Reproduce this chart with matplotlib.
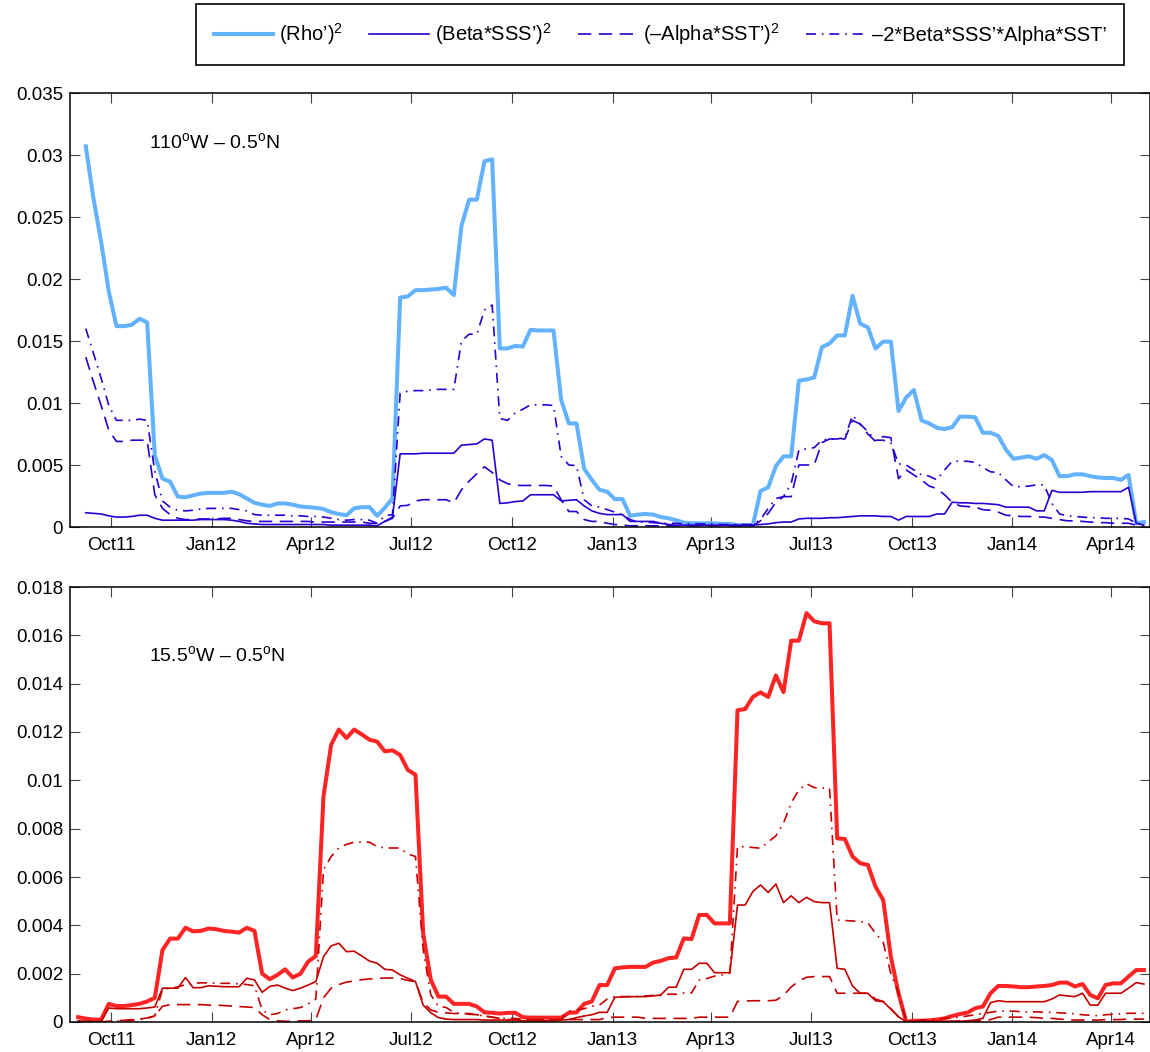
import numpy as np
import pandas as pd
import matplotlib
matplotlib.use("Agg")
import matplotlib.pyplot as plt
import matplotlib.dates as mdates
from matplotlib.ticker import FuncFormatter, MultipleLocator

plt.rcParams["font.family"] = ["Liberation Sans", "DejaVu Sans"]
plt.rcParams["mathtext.fontset"] = "custom"
plt.rcParams["mathtext.rm"] = "Liberation Sans"
plt.rcParams["mathtext.it"] = "Liberation Sans:italic"
plt.rcParams["font.size"] = 13.5

# Weekly density-variance terms, values in units of 1e-3
dates_110 = pd.date_range("2011-09-08", periods=139, freq="7D")
dates_155 = pd.date_range("2011-09-01", periods=140, freq="7D")

# 110W - 0.5N
rho_110 = [
    30.7, 26.5, 23.0, 19.0, 16.2, 16.2, 16.3, 16.8, 16.5, 5.8,
    3.9, 3.65, 2.45, 2.4, 2.55, 2.7, 2.75, 2.75, 2.75, 2.85,
    2.65, 2.3, 1.95, 1.8, 1.7, 1.9, 1.9, 1.8, 1.65, 1.6,
    1.55, 1.45, 1.2, 1.05, 0.95, 1.5, 1.6, 1.6, 0.9, 1.55,
    2.3, 18.5, 18.6, 19.1, 19.1, 19.15, 19.2, 19.3, 18.7, 24.3,
    26.4, 26.4, 29.5, 29.65, 14.4, 14.4, 14.6, 14.55, 15.9, 15.85,
    15.85, 15.85, 10.25, 8.35, 8.35, 4.7, 3.8, 3.0, 2.85, 2.25,
    2.25, 0.9, 1.0, 1.05, 1.0, 0.8, 0.7, 0.55, 0.35, 0.3,
    0.3, 0.3, 0.3, 0.25, 0.25, 0.15, 0.15, 0.15, 2.9, 3.2,
    4.9, 5.7, 5.7, 11.8, 11.9, 12.05, 14.5, 14.8, 15.45, 15.45,
    18.65, 16.4, 16.1, 14.4, 14.95, 14.95, 9.35, 10.45, 11.05, 8.6,
    8.35, 8.0, 7.9, 8.05, 8.9, 8.9, 8.85, 7.6, 7.6, 7.35,
    6.25, 5.5, 5.6, 5.7, 5.5, 5.8, 5.4, 4.1, 4.1, 4.25,
    4.25, 4.1, 4.0, 3.95, 3.95, 3.8, 4.2, 0.3, 0.4,
]
beta_110 = [
    1.15, 1.1, 1.05, 0.9, 0.8, 0.8, 0.85, 0.95, 0.95, 0.7,
    0.55, 0.55, 0.55, 0.55, 0.55, 0.6, 0.6, 0.6, 0.6, 0.55,
    0.45, 0.3, 0.25, 0.2, 0.2, 0.2, 0.2, 0.2, 0.2, 0.2,
    0.2, 0.2, 0.15, 0.15, 0.15, 0.15, 0.15, 0.15, 0.1, 0.45,
    0.8, 5.9, 5.9, 5.9, 5.95, 5.95, 5.95, 5.95, 5.95, 6.6,
    6.65, 6.7, 7.1, 7.0, 1.9, 1.95, 2.05, 2.1, 2.6, 2.6,
    2.6, 2.6, 2.1, 2.15, 2.2, 1.7, 1.3, 1.1, 1.0, 1.0,
    1.0, 0.45, 0.45, 0.45, 0.45, 0.3, 0.2, 0.15, 0.15, 0.15,
    0.15, 0.15, 0.15, 0.15, 0.15, 0.15, 0.15, 0.15, 0.2, 0.25,
    0.35, 0.4, 0.4, 0.65, 0.7, 0.7, 0.7, 0.75, 0.75, 0.8,
    0.85, 0.9, 0.9, 0.9, 0.85, 0.85, 0.55, 0.85, 0.85, 0.85,
    0.85, 1.05, 1.05, 2.0, 1.95, 1.95, 1.9, 1.9, 1.85, 1.8,
    1.6, 1.6, 1.6, 1.6, 1.3, 1.3, 2.95, 2.8, 2.8, 2.8,
    2.8, 2.85, 2.85, 2.85, 2.85, 2.85, 3.2, 0.3, 0.15,
]
alpha_110 = [
    13.7, 11.7, 9.8, 7.8, 6.9, 6.9, 7.0, 7.0, 7.0, 2.6,
    1.5, 1.0, 0.7, 0.6, 0.6, 0.65, 0.65, 0.65, 0.7, 0.7,
    0.6, 0.5, 0.45, 0.45, 0.45, 0.45, 0.45, 0.45, 0.45, 0.45,
    0.4, 0.4, 0.4, 0.4, 0.4, 0.4, 0.4, 0.3, 0.3, 0.45,
    0.7, 1.7, 1.75, 2.1, 2.2, 2.2, 2.2, 2.2, 1.95, 3.0,
    3.7, 4.3, 4.85, 4.4, 3.8, 3.5, 3.35, 3.35, 3.35, 3.35,
    3.35, 3.3, 2.2, 1.25, 1.25, 0.6, 0.45, 0.45, 0.3, 0.2,
    0.15, 0.1, 0.1, 0.1, 0.1, 0.1, 0.1, 0.1, 0.1, 0.1,
    0.1, 0.1, 0.1, 0.1, 0.1, 0.1, 0.1, 0.1, 0.5, 1.1,
    2.0, 2.45, 2.45, 5.0, 5.0, 5.0, 6.8, 7.1, 7.1, 7.1,
    8.6, 8.3, 7.5, 6.9, 7.3, 7.2, 3.9, 4.6, 4.2, 3.8,
    3.3, 3.1, 2.6, 2.0, 1.7, 1.65, 1.6, 1.4, 1.35, 1.2,
    0.95, 0.9, 0.85, 0.85, 0.8, 0.8, 0.7, 0.6, 0.5, 0.5,
    0.45, 0.4, 0.35, 0.35, 0.3, 0.3, 0.3, 0.15, 0.1,
]
cross_110 = [
    16.0, 14.0, 12.0, 9.8, 8.6, 8.6, 8.6, 8.7, 8.6, 4.5,
    2.1, 1.6, 1.35, 1.3, 1.35, 1.45, 1.5, 1.5, 1.5, 1.5,
    1.4, 1.3, 1.0, 0.95, 0.95, 0.95, 0.95, 0.9, 0.9, 0.85,
    0.85, 0.8, 0.7, 0.6, 0.55, 0.6, 0.6, 0.55, 0.3, 0.9,
    1.0, 10.8, 10.95, 11.0, 11.0, 11.05, 11.1, 11.1, 11.1, 15.0,
    15.55, 15.55, 17.5, 17.9, 8.75, 8.6, 9.2, 9.5, 9.85, 9.85,
    9.85, 9.8, 5.7, 5.0, 4.95, 2.2, 1.7, 1.6, 1.4, 1.2,
    1.0, 0.6, 0.4, 0.4, 0.35, 0.3, 0.3, 0.3, 0.25, 0.25,
    0.25, 0.25, 0.25, 0.2, 0.2, 0.2, 0.2, 0.2, 0.6, 1.5,
    2.3, 2.45, 3.5, 6.2, 6.3, 6.4, 7.0, 7.1, 7.1, 7.2,
    9.0, 8.3, 7.7, 7.0, 7.0, 6.8, 5.1, 5.0, 4.6, 4.2,
    4.1, 3.8, 4.6, 5.3, 5.3, 5.3, 5.2, 4.8, 4.45, 4.4,
    3.8, 3.25, 3.25, 3.3, 3.4, 3.4, 1.9, 1.05, 0.9, 0.85,
    0.8, 0.75, 0.75, 0.7, 0.7, 0.7, 0.65, 0.3, 0.2,
]

# 15.5W - 0.5N
rho_155 = [
    0.2, 0.14, 0.1, 0.1, 0.75, 0.66, 0.66, 0.7, 0.75, 0.85,
    1.0, 2.98, 3.45, 3.45, 3.9, 3.75, 3.77, 3.87, 3.84, 3.77,
    3.74, 3.7, 3.9, 3.77, 2.0, 1.77, 1.95, 2.18, 1.84, 2.0,
    2.5, 2.73, 9.33, 11.47, 12.1, 11.75, 12.1, 11.9, 11.68, 11.6,
    11.2, 11.24, 11.05, 10.43, 10.23, 3.67, 1.74, 1.05, 1.05, 0.75,
    0.75, 0.75, 0.64, 0.4, 0.38, 0.35, 0.38, 0.38, 0.2, 0.18,
    0.18, 0.18, 0.18, 0.18, 0.38, 0.4, 0.75, 0.85, 1.53, 1.53,
    2.22, 2.26, 2.28, 2.28, 2.28, 2.46, 2.53, 2.64, 2.67, 3.46,
    3.43, 4.43, 4.43, 4.08, 4.08, 4.08, 12.9, 12.95, 13.45, 13.64,
    13.45, 14.34, 13.65, 15.78, 15.78, 16.92, 16.58, 16.5, 16.5, 7.6,
    7.57, 6.85, 6.57, 6.5, 5.6, 5.05, 2.7, 1.19, 0.01, 0.05,
    0.05, 0.07, 0.1, 0.15, 0.25, 0.33, 0.39, 0.57, 0.64, 1.19,
    1.49, 1.49, 1.47, 1.44, 1.44, 1.47, 1.49, 1.53, 1.63, 1.63,
    1.47, 1.57, 1.12, 0.98, 1.53, 1.6, 1.6, 1.88, 2.15, 2.15,
]
beta_155 = [
    0.05, 0.03, 0.02, 0.02, 0.58, 0.55, 0.55, 0.55, 0.55, 0.58,
    0.62, 1.4, 1.4, 1.4, 1.84, 1.42, 1.42, 1.5, 1.48, 1.46,
    1.46, 1.46, 1.81, 1.74, 1.23, 1.47, 1.53, 1.4, 1.3, 1.4,
    1.53, 1.67, 2.7, 3.15, 3.26, 2.91, 2.93, 2.73, 2.52, 2.43,
    2.18, 2.15, 1.95, 1.81, 1.67, 0.7, 0.38, 0.18, 0.12, 0.1,
    0.1, 0.1, 0.1, 0.08, 0.08, 0.08, 0.08, 0.08, 0.05, 0.05,
    0.05, 0.05, 0.05, 0.08, 0.1, 0.18, 0.25, 0.3, 0.4, 0.4,
    1.02, 1.04, 1.05, 1.05, 1.05, 1.08, 1.12, 1.44, 1.44, 2.18,
    2.18, 2.43, 2.43, 2.04, 2.04, 2.04, 4.84, 4.84, 5.4, 5.67,
    5.36, 5.71, 4.94, 5.22, 4.94, 5.16, 4.98, 4.94, 4.94, 2.22,
    2.18, 1.49, 1.19, 1.19, 0.88, 0.84, 0.53, 0.22, 0.0, 0.03,
    0.03, 0.03, 0.03, 0.03, 0.03, 0.03, 0.05, 0.08, 0.15, 0.8,
    0.88, 0.84, 0.84, 0.84, 0.84, 0.84, 0.84, 0.95, 1.12, 1.08,
    1.05, 1.19, 0.7, 0.7, 1.19, 1.19, 1.19, 1.4, 1.63, 1.57,
]
alpha_155 = [
    0.0, 0.0, 0.0, 0.0, 0.03, 0.05, 0.07, 0.1, 0.12, 0.17,
    0.25, 0.65, 0.72, 0.72, 0.72, 0.72, 0.72, 0.7, 0.7, 0.68,
    0.66, 0.64, 0.62, 0.6, 0.3, 0.1, 0.05, 0.03, 0.03, 0.05,
    0.05, 0.1, 1.0, 1.4, 1.55, 1.65, 1.7, 1.75, 1.78, 1.8,
    1.82, 1.82, 1.8, 1.72, 1.67, 0.8, 0.5, 0.4, 0.38, 0.35,
    0.35, 0.32, 0.3, 0.25, 0.2, 0.15, 0.1, 0.1, 0.1, 0.1,
    0.1, 0.1, 0.1, 0.1, 0.1, 0.1, 0.1, 0.1, 0.1, 0.18,
    0.2, 0.2, 0.2, 0.2, 0.15, 0.15, 0.15, 0.15, 0.15, 0.15,
    0.15, 0.2, 0.2, 0.2, 0.2, 0.2, 0.85, 0.87, 0.88, 0.88,
    0.88, 0.9, 1.1, 1.45, 1.7, 1.85, 1.88, 1.88, 1.88, 1.19,
    1.19, 1.19, 1.19, 1.19, 0.95, 0.85, 0.55, 0.2, 0.0, 0.02,
    0.02, 0.02, 0.02, 0.02, 0.02, 0.05, 0.05, 0.05, 0.05, 0.1,
    0.2, 0.2, 0.2, 0.2, 0.2, 0.18, 0.15, 0.15, 0.12, 0.1,
    0.08, 0.08, 0.08, 0.08, 0.1, 0.1, 0.1, 0.12, 0.12, 0.12,
]
cross_155 = [
    0.0, 0.0, 0.0, 0.0, 0.02, 0.03, 0.05, 0.07, 0.1, 0.15,
    0.25, 1.35, 1.4, 1.45, 1.55, 1.6, 1.62, 1.62, 1.6, 1.6,
    1.6, 1.58, 1.55, 1.5, 0.5, 0.3, 0.35, 0.5, 0.55, 0.6,
    0.75, 0.95, 6.3, 6.85, 7.2, 7.35, 7.44, 7.44, 7.44, 7.26,
    7.2, 7.2, 7.2, 6.95, 6.85, 3.0, 1.12, 0.65, 0.6, 0.4,
    0.35, 0.35, 0.3, 0.25, 0.2, 0.15, 0.15, 0.15, 0.1, 0.1,
    0.1, 0.1, 0.1, 0.1, 0.45, 0.5, 0.55, 0.65, 0.7, 0.95,
    1.05, 1.05, 1.05, 1.05, 1.08, 1.1, 1.1, 1.15, 1.15, 1.2,
    1.2, 1.74, 1.8, 1.9, 1.95, 2.02, 7.26, 7.25, 7.22, 7.19,
    7.45, 7.7, 8.23, 9.06, 9.6, 9.86, 9.7, 9.68, 9.68, 4.22,
    4.2, 4.18, 4.16, 4.1, 3.67, 3.3, 2.0, 1.19, 0.05, 0.05,
    0.08, 0.1, 0.12, 0.15, 0.18, 0.2, 0.25, 0.3, 0.35, 0.4,
    0.45, 0.45, 0.45, 0.42, 0.42, 0.42, 0.4, 0.4, 0.38, 0.36,
    0.34, 0.3, 0.28, 0.26, 0.3, 0.32, 0.34, 0.36, 0.36, 0.36,
]

site_110 = "110$^\\mathrm{o}$W – 0.5$^\\mathrm{o}$N"
site_155 = "15.5$^\\mathrm{o}$W – 0.5$^\\mathrm{o}$N"
labels = [
    "(Rho’)$^2$",
    "(Beta*SSS’)$^2$",
    "(–Alpha*SST’)$^2$",
    "–2*Beta*SSS’*Alpha*SST’",
]

DASH = (0, (8, 4.5))
DASHDOT = (0, (6, 3.5, 1, 3.5))
XMIN = pd.Timestamp("2011-08-24 14:00")
XMAX = pd.Timestamp("2014-05-06 14:00")


def style_axis(ax, ymax, ystep):
    ax.set_xlim(XMIN, XMAX)
    ax.set_ylim(0, ymax)
    ax.yaxis.set_major_locator(MultipleLocator(ystep))
    ax.yaxis.set_major_formatter(FuncFormatter(lambda v, _: f"{v:g}"))
    ax.xaxis.set_major_locator(mdates.MonthLocator(bymonth=[1, 4, 7, 10]))
    ax.xaxis.set_major_formatter(mdates.DateFormatter("%b%y"))
    ax.tick_params(direction="in", length=7, width=0.8, color="#444444",
                   top=True, right=True, labelsize=13.5)
    ax.tick_params(axis="x", pad=7)
    ax.tick_params(axis="y", pad=5)
    for sp in ax.spines.values():
        sp.set_linewidth(1.1)


def plot_site(ax, dates, rho, beta, alpha, cross, thick_color, thin_color):
    s = 1e-3
    h1, = ax.plot(dates, np.array(rho) * s, color=thick_color, lw=2.9)
    h2, = ax.plot(dates, np.array(beta) * s, color=thin_color, lw=1.2)
    h3, = ax.plot(dates, np.array(alpha) * s, color=thin_color, lw=1.2,
                  linestyle=DASH)
    h4, = ax.plot(dates, np.array(cross) * s, color=thin_color, lw=1.2,
                  linestyle=DASHDOT)
    return [h1, h2, h3, h4]


fig = plt.figure(figsize=(11.5, 10.52), dpi=100)
ax1 = fig.add_axes([70 / 1150, 1 - 527 / 1052, 1080 / 1150, 434 / 1052])
ax2 = fig.add_axes([70 / 1150, 1 - 1022 / 1052, 1080 / 1150, 435 / 1052])

handles = plot_site(ax1, dates_110, rho_110, beta_110, alpha_110, cross_110,
                    "#63b2fd", "#2a00d2")
plot_site(ax2, dates_155, rho_155, beta_155, alpha_155, cross_155,
          "#ff2424", "#c40000")

style_axis(ax1, 0.035, 0.005)
style_axis(ax2, 0.018, 0.002)

ax1.text(0.073, 0.887, site_110, transform=ax1.transAxes,
         ha="left", va="center", fontsize=14)
ax2.text(0.073, 0.844, site_155, transform=ax2.transAxes,
         ha="left", va="center", fontsize=14)

leg = fig.legend(handles, labels, ncol=4, loc="center",
                 bbox_to_anchor=(660 / 1150, 1 - 34.5 / 1052),
                 frameon=True, fancybox=False, framealpha=1,
                 edgecolor="black", handlelength=2.95, handletextpad=0.3,
                 columnspacing=1.3, borderpad=0.85, fontsize=14.5)
leg.get_frame().set_linewidth(1.2)

fig.savefig("out.png", dpi=100)
